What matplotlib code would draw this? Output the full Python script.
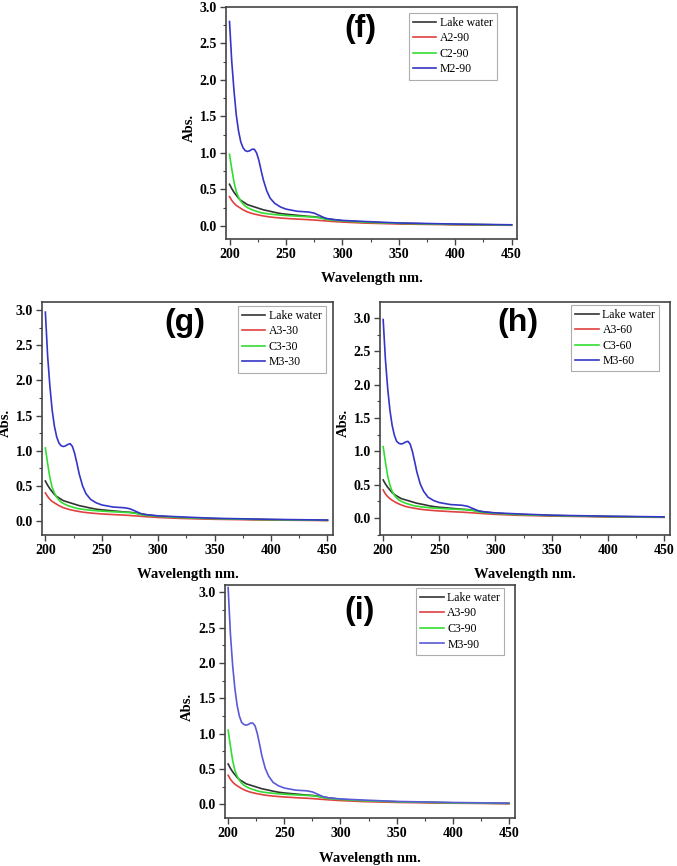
import matplotlib
matplotlib.use("Agg")
import matplotlib.pyplot as plt
from matplotlib.ticker import MultipleLocator, FormatStrFormatter

# Wavelength grid (nm) shared by all spectra
wl = [200, 202, 204, 206, 208, 210, 212, 214, 216, 218, 220, 222, 224, 226, 228,
      230, 233, 236, 240, 245, 250, 260, 270, 275, 280, 285, 290, 300, 320, 350,
      400, 450]

# Lake water reference spectrum
lake = [0.57, 0.51, 0.46, 0.42, 0.38, 0.35, 0.33, 0.31, 0.29, 0.28, 0.27, 0.26,
        0.25, 0.24, 0.23, 0.22, 0.21, 0.20, 0.185, 0.17, 0.16, 0.145, 0.13, 0.125,
        0.115, 0.10, 0.09, 0.07, 0.05, 0.035, 0.02, 0.012]

# A-series (red)
a_f = [0.40, 0.35, 0.31, 0.28, 0.26, 0.24, 0.22, 0.205, 0.19, 0.18, 0.17, 0.162,
       0.155, 0.148, 0.142, 0.136, 0.128, 0.122, 0.115, 0.108, 0.102, 0.093, 0.085,
       0.08, 0.074, 0.068, 0.062, 0.052, 0.038, 0.026, 0.015, 0.008]
a_g = [0.40, 0.35, 0.31, 0.28, 0.26, 0.24, 0.22, 0.205, 0.19, 0.18, 0.17, 0.162,
       0.155, 0.148, 0.142, 0.136, 0.128, 0.122, 0.115, 0.108, 0.102, 0.093, 0.085,
       0.08, 0.074, 0.068, 0.062, 0.052, 0.038, 0.026, 0.015, 0.008]
a_h = [0.42, 0.36, 0.32, 0.29, 0.265, 0.245, 0.225, 0.21, 0.195, 0.183, 0.172, 0.164,
       0.157, 0.15, 0.144, 0.138, 0.13, 0.124, 0.117, 0.11, 0.104, 0.094, 0.086,
       0.081, 0.075, 0.069, 0.063, 0.053, 0.039, 0.027, 0.015, 0.008]
a_i = [0.41, 0.355, 0.315, 0.285, 0.262, 0.242, 0.222, 0.207, 0.192, 0.181, 0.171,
       0.163, 0.156, 0.149, 0.143, 0.137, 0.129, 0.123, 0.116, 0.109, 0.103, 0.093,
       0.085, 0.08, 0.074, 0.068, 0.062, 0.052, 0.038, 0.026, 0.015, 0.008]

# C-series (green)
c_f = [0.98, 0.78, 0.60, 0.47, 0.39, 0.34, 0.30, 0.27, 0.25, 0.235, 0.22, 0.21,
       0.20, 0.19, 0.18, 0.175, 0.168, 0.162, 0.155, 0.148, 0.142, 0.133, 0.125,
       0.12, 0.11, 0.09, 0.08, 0.068, 0.05, 0.035, 0.02, 0.012]
c_g = [1.04, 0.82, 0.62, 0.48, 0.40, 0.34, 0.30, 0.27, 0.25, 0.235, 0.22, 0.21,
       0.20, 0.19, 0.18, 0.175, 0.168, 0.162, 0.155, 0.148, 0.142, 0.133, 0.125,
       0.12, 0.11, 0.09, 0.08, 0.068, 0.05, 0.035, 0.02, 0.012]
c_h = [1.07, 0.84, 0.63, 0.49, 0.40, 0.34, 0.30, 0.27, 0.25, 0.235, 0.22, 0.21,
       0.20, 0.19, 0.18, 0.175, 0.168, 0.162, 0.155, 0.148, 0.142, 0.133, 0.125,
       0.12, 0.11, 0.09, 0.08, 0.068, 0.05, 0.035, 0.02, 0.012]
c_i = [1.05, 0.83, 0.62, 0.48, 0.40, 0.34, 0.30, 0.27, 0.25, 0.235, 0.22, 0.21,
       0.20, 0.19, 0.18, 0.175, 0.168, 0.162, 0.155, 0.148, 0.142, 0.133, 0.125,
       0.12, 0.11, 0.09, 0.08, 0.068, 0.05, 0.035, 0.02, 0.012]

# M-series (blue)
m_f = [2.80, 2.25, 1.85, 1.52, 1.30, 1.15, 1.07, 1.03, 1.02, 1.03, 1.05, 1.05,
       1.00, 0.90, 0.76, 0.63, 0.48, 0.38, 0.31, 0.26, 0.23, 0.20, 0.19, 0.175,
       0.14, 0.105, 0.09, 0.075, 0.06, 0.04, 0.025, 0.015]
m_g = [2.97, 2.35, 1.92, 1.58, 1.35, 1.20, 1.11, 1.07, 1.06, 1.07, 1.09, 1.10,
       1.06, 0.96, 0.82, 0.67, 0.50, 0.39, 0.31, 0.26, 0.23, 0.20, 0.19, 0.175,
       0.14, 0.105, 0.09, 0.075, 0.06, 0.04, 0.025, 0.015]
m_h = [2.98, 2.38, 1.95, 1.62, 1.39, 1.24, 1.15, 1.12, 1.11, 1.12, 1.14, 1.15,
       1.11, 1.00, 0.85, 0.69, 0.51, 0.40, 0.31, 0.26, 0.23, 0.20, 0.19, 0.175,
       0.14, 0.105, 0.09, 0.075, 0.06, 0.04, 0.025, 0.015]
m_i = [3.07, 2.42, 1.97, 1.64, 1.40, 1.25, 1.16, 1.13, 1.12, 1.13, 1.15, 1.15,
       1.11, 1.00, 0.85, 0.69, 0.51, 0.40, 0.31, 0.26, 0.23, 0.20, 0.19, 0.175,
       0.14, 0.105, 0.09, 0.075, 0.06, 0.04, 0.025, 0.015]

panels = [
    # tag, names, series, axes rect, ylim, tag pos, legend anchor, blue colour
    ("(f)", ["Lake water", "A2-90", "C2-90", "M2-90"], [lake, a_f, c_f, m_f],
     [0.334, 0.724, 0.430, 0.268], (-0.18, 3.0), (0.46, 0.905), (0.93, 0.975), "#3535c8"),
    ("(g)", ["Lake water", "A3-30", "C3-30", "M3-30"], [lake, a_g, c_g, m_g],
     [0.062, 0.382, 0.430, 0.269], (-0.2, 3.11), (0.49, 0.91), (0.975, 0.985), "#3535c8"),
    ("(h)", ["Lake water", "A3-60", "C3-60", "M3-60"], [lake, a_h, c_h, m_h],
     [0.561, 0.382, 0.428, 0.269], (-0.26, 3.24), (0.476, 0.91), (0.965, 0.99), "#3535c8"),
    ("(i)", ["Lake water", "A3-90", "C3-90", "M3-90"], [lake, a_i, c_i, m_i],
     [0.332, 0.055, 0.428, 0.269], (-0.2, 3.1), (0.465, 0.89), (0.965, 0.99), "#5a5ad8"),
]

serif = "Liberation Serif"
fig = plt.figure(figsize=(6.77, 8.66), dpi=100)

for tag, names, series, rect, ylim, tpos, lpos, blue in panels:
    ax = fig.add_axes(rect)
    colors = ["#333333", "#e04040", "#33dd33", blue]
    for vals, name, col in zip(series, names, colors):
        ax.plot(wl, vals, color=col, lw=1.2, label=name)
    ax.set_xlim(197, 455)
    ax.set_ylim(*ylim)
    ax.xaxis.set_major_locator(MultipleLocator(50))
    ax.xaxis.set_minor_locator(MultipleLocator(25))
    ax.yaxis.set_major_locator(MultipleLocator(0.5))
    ax.yaxis.set_minor_locator(MultipleLocator(0.25))
    ax.yaxis.set_major_formatter(FormatStrFormatter("%.1f"))
    ax.set_yticks([0, 0.5, 1.0, 1.5, 2.0, 2.5, 3.0])
    ax.tick_params(which="major", direction="out", length=4, width=1, color="#444444",
                   pad=2.5)
    ax.tick_params(which="minor", direction="out", length=2, width=0.8, color="#444444")
    for lab in ax.get_xticklabels() + ax.get_yticklabels():
        lab.set_fontfamily(serif)
        lab.set_fontweight("bold")
        lab.set_fontsize(10)
    for sp in ax.spines.values():
        sp.set_color("#444444")
        sp.set_linewidth(1.2)
    ax.set_xlabel("Wavelength nm.", fontfamily=serif, fontweight="bold",
                  fontsize=10.5, labelpad=8)
    ax.set_ylabel("Abs.", fontfamily=serif, fontweight="bold", fontsize=10.5)
    ax.yaxis.set_label_coords(-0.105, 0.48)
    ax.text(tpos[0], tpos[1], tag, transform=ax.transAxes, ha="center", va="center",
            fontfamily="Liberation Sans", fontweight="bold", fontsize=23)
    leg = ax.legend(loc="upper right", bbox_to_anchor=lpos, fancybox=False,
                    prop={"family": serif, "size": 8.5},
                    handlelength=2.0, labelspacing=0.3, borderpad=0.35,
                    handletextpad=0.3, borderaxespad=0.0)
    leg.get_frame().set_edgecolor("#999999")
    leg.get_frame().set_linewidth(0.8)

fig.savefig("out.png", dpi=100)
